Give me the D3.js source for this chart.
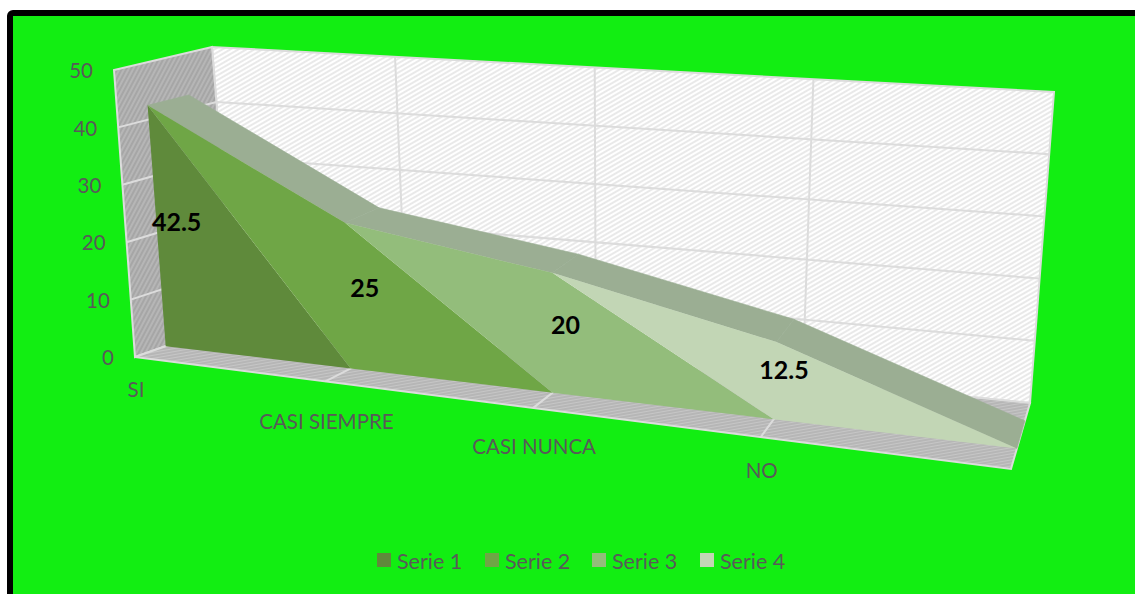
<!DOCTYPE html>
<html><head><meta charset="utf-8">
<script src="https://cdn.jsdelivr.net/npm/d3@7"></script>
<style>html,body{margin:0;padding:0;background:#fff;overflow:hidden}svg{display:block}text{font-family:Lato,"Open Sans",sans-serif}</style>
</head><body><svg id="c" width="1135" height="594"></svg>
<script>
const categories = ["SI","CASI SIEMPRE","CASI NUNCA","NO",""];
const seriesNames = ["Serie 1","Serie 2","Serie 3","Serie 4"];
const serie1 = [42.5,0,0,0,0];
const serie2 = [0,25,0,0,0];
const serie3 = [0,0,20,0,0];
const serie4 = [0,0,0,12.5,0];
const dataLabels = ["42.5","25","20","12.5"];
const yTicks = [0,10,20,30,40,50];

const colors = ["#5f8a3b","#6fa646","#93bd7b","#c2d6b5"];
const bandColor = "#9bae93";
const C = {fbl:[135,357],ftl:[114,70],btl:[212,47],bbl:[234,322],fbr:[1011,469],ftr:[1035,146],bbr:[1030,403],btr:[1054,92]};
const rows = categories.map((c,i)=>({i,"Serie 1":serie1[i],"Serie 2":serie2[i],"Serie 3":serie3[i],"Serie 4":serie4[i]}));
const stacked = d3.stack().keys(seriesNames)(rows);

const xIdx = d3.scaleLinear().domain([0,categories.length-1]).range([0,1]);
const persp = t => t/(t+1.2*(1-t));
const yV = d3.scaleLinear().domain([0,50]).range([0,1]);
const wFront=.31, wBack=.73;
const lerp=(a,b,t)=>[a[0]+(b[0]-a[0])*t,a[1]+(b[1]-a[1])*t];
function P(i,val,w){
  const u=persp(xIdx(i)), v=yV(val);
  const fb=lerp(C.fbl,C.fbr,u), ft=lerp(C.ftl,C.ftr,u), bb=lerp(C.bbl,C.bbr,u), bt=lerp(C.btl,C.btr,u);
  return lerp(lerp(fb,ft,v),lerp(bb,bt,v),w);
}
const svg=d3.select("#c");
const poly=d3.line().curve(d3.curveLinearClosed);
const n=categories.length-1;

// background + frame
svg.append("rect").attr("x",10).attr("y",13).attr("width",1140).attr("height",600).attr("rx",3)
  .attr("fill","#12ee12").attr("stroke","#000").attr("stroke-width",6);

const defs=svg.append("defs");
function hatch(id,bg,fg,angle,gap,sw){
  const p=defs.append("pattern").attr("id",id).attr("patternUnits","userSpaceOnUse").attr("width",gap).attr("height",gap)
    .attr("patternTransform",`rotate(${angle})`);
  p.append("rect").attr("width",gap).attr("height",gap).attr("fill",bg);
  p.append("line").attr("x1",0).attr("x2",gap).attr("y1",gap/2).attr("y2",gap/2).attr("stroke",fg).attr("stroke-width",sw);
}
hatch("hw","#ffffff","#e2e2e2",-30,4,1.5);
hatch("hs","#a6a6a6","#bbbbbb",-62,4,1.5);
hatch("hf","#b4b4b4","#c6c6c6",-10,3,1.2);

const edge="#dcdcdc";
svg.append("path").attr("d",poly([P(0,0,1),P(n,0,1),P(n,50,1),P(0,50,1)])).attr("fill","url(#hw)").attr("stroke",edge).attr("stroke-width",2);
svg.append("path").attr("d",poly([P(0,0,0),P(0,0,1),P(0,50,1),P(0,50,0)])).attr("fill","url(#hs)").attr("stroke",edge).attr("stroke-width",2);
svg.append("path").attr("d",poly([P(0,0,0),P(n,0,0),P(n,0,1),P(0,0,1)])).attr("fill","url(#hf)").attr("stroke",edge).attr("stroke-width",2);
const gl=d3.line();
yTicks.slice(1,-1).forEach(t=>{
  svg.append("path").attr("d",gl([P(0,t,0),P(0,t,1),P(n,t,1)])).attr("fill","none").attr("stroke",edge).attr("stroke-width",2);
});
d3.range(1,n).forEach(i=>{
  svg.append("path").attr("d",gl([P(i,0,0),P(i,0,1),P(i,50,1)])).attr("fill","none").attr("stroke",edge).attr("stroke-width",2);
});

// top envelope of the stack
const env=rows.map((r,i)=>d3.max(stacked,s=>s[i][1]));
d3.range(0,n).forEach(i=>{
  svg.append("path").attr("d",poly([P(i,env[i],wFront),P(i+1,env[i+1],wFront),P(i+1,env[i+1],wBack),P(i,env[i],wBack)]))
    .attr("fill",bandColor).attr("stroke",bandColor).attr("stroke-width",.6);
});
// front faces
stacked.forEach((s,k)=>{
  const upper=s.map((d,i)=>P(i,d3.max(stacked.slice(0,k+1),q=>q[i][1]),wFront));
  const lower=s.map((d,i)=>P(i,k?d3.max(stacked.slice(0,k),q=>q[i][1]):0,wFront)).reverse();
  svg.append("path").attr("d",poly(upper.concat(lower))).attr("fill",colors[k]);
});

// y axis labels
yTicks.forEach(t=>{
  const p=P(0,t,0);
  svg.append("text").attr("x",p[0]-21).attr("y",p[1]+1).attr("dy","0.35em").attr("text-anchor","end")
    .attr("font-size",20.5).attr("fill","#595959").text(t);
});
// category labels
const catDy=[33,40,39,34];
categories.forEach((c,i)=>{
  if(!c)return;
  const p=P(i,0,0);
  svg.append("text").attr("x",p[0]+1).attr("y",p[1]+catDy[i]).attr("dy","0.35em").attr("text-anchor","middle")
    .attr("font-size",20.5).attr("fill","#595959").text(c);
});
// data labels
const labelDx=[20,17,13,9], labelDy=[-4,-7,-8,-10];
dataLabels.forEach((l,i)=>{
  const p=P(i,env[i]/2,wFront);
  svg.append("text").attr("x",p[0]+labelDx[i]).attr("y",p[1]+labelDy[i]).attr("dy","0.35em").attr("text-anchor","middle")
    .attr("font-size",25).attr("font-weight",700).attr("fill","#000").text(l);
});
// legend
const legendX=[377,485,592,700];
seriesNames.forEach((s,k)=>{
  svg.append("rect").attr("x",legendX[k]).attr("y",553).attr("width",14).attr("height",14).attr("fill",colors[k]);
  svg.append("text").attr("x",legendX[k]+20).attr("y",561).attr("dy","0.35em").attr("font-size",21.5).attr("fill","#595959").text(s);
});
</script></body></html>
